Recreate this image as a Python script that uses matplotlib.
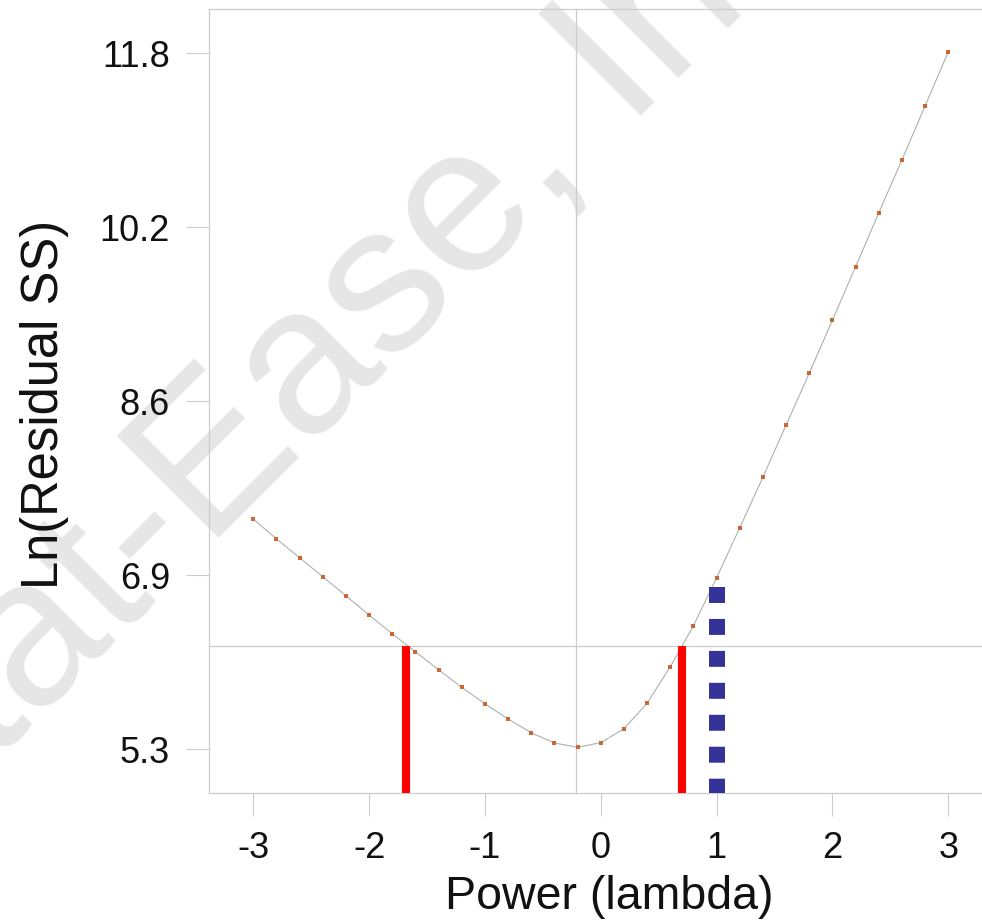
import matplotlib
matplotlib.use('Agg')
import matplotlib.pyplot as plt

plt.rcParams['font.family'] = ['Liberation Sans', 'DejaVu Sans']

# Box-Cox data
lambdas = [-3.0, -2.8, -2.6, -2.4, -2.2, -2.0, -1.8, -1.6, -1.4, -1.2, -1.0,
           -0.8, -0.6, -0.4, -0.2, 0.0, 0.2, 0.4, 0.6, 0.8, 1.0,
           1.2, 1.4, 1.6, 1.8, 2.0, 2.2, 2.4, 2.6, 2.8, 3.0]
ln_ss = [7.450, 7.266, 7.089, 6.912, 6.734, 6.554, 6.379, 6.211, 6.043, 5.879, 5.726,
         5.583, 5.455, 5.359, 5.319, 5.362, 5.492, 5.730, 6.071, 6.454, 6.902,
         7.369, 7.842, 8.328, 8.813, 9.308, 9.806, 10.310, 10.805, 11.309, 11.813]

best_lambda = -0.21
ci_low = -1.68
ci_high = 0.70
ci_threshold = 6.264
current_lambda = 1.0
current_ln = 6.82

x_ticks = [-3, -2, -1, 0, 1, 2, 3]
y_ticks = [5.3, 6.925, 8.55, 10.175, 11.8]
y_tick_labels = ['5.3', '6.9', '8.6', '10.2', '11.8']

grey = '#cccccc'

fig = plt.figure(figsize=(9.82, 9.21), dpi=100)
ax = fig.add_axes([209 / 982, 1 - 793 / 921, 801 / 982, 784 / 921])
ax.patch.set_alpha(0)

# watermark behind everything
fig.text(-0.108, 0.063, 'Stat-Ease, Inc.', fontsize=151, color='#e6e6e6',
         rotation=45, rotation_mode='anchor', ha='left', va='baseline', zorder=-10)

ax.set_xlim(-3.382, 3.533)
ax.set_ylim(4.892, 12.214)

ax.axvline(best_lambda, color=grey, lw=0.9, zorder=1)
ax.axhline(ci_threshold, color=grey, lw=0.9, zorder=1)

ax.plot(lambdas, ln_ss, color='#b0b0b0', lw=0.8, zorder=2)
ax.plot(lambdas, ln_ss, ls='none', marker='s', ms=3.3, mew=0, color='#cc6633', zorder=3)

bottom = ax.get_ylim()[0]
ax.vlines([ci_low, ci_high], bottom, ci_threshold, color='#ff0000', lw=5.8, zorder=4)
ax.plot([current_lambda, current_lambda], [current_ln, bottom - 0.2], color='#333399',
        lw=11.5, dashes=(1, 1), solid_capstyle='butt', dash_capstyle='butt', zorder=4)

ax.set_xticks(x_ticks)
ax.set_xticklabels([str(t) for t in x_ticks])
ax.set_yticks(y_ticks)
ax.set_yticklabels(y_tick_labels)
ax.tick_params(axis='both', direction='out', length=16.5, width=0.8, color=grey,
               labelsize=26, labelcolor='#111111')
ax.tick_params(axis='x', pad=11)
ax.tick_params(axis='y', pad=11.5)

for side in ['left', 'top', 'bottom']:
    ax.spines[side].set_color(grey)
    ax.spines[side].set_linewidth(0.9)
ax.spines['right'].set_visible(False)

ax.set_xlabel('Power (lambda)', fontsize=33.5, color='#111111', labelpad=6)
ax.set_ylabel('Ln(Residual SS)', fontsize=36.5, color='#111111')
ax.yaxis.set_label_coords(-0.175, 0.495)

fig.savefig('out.png', dpi=100)
